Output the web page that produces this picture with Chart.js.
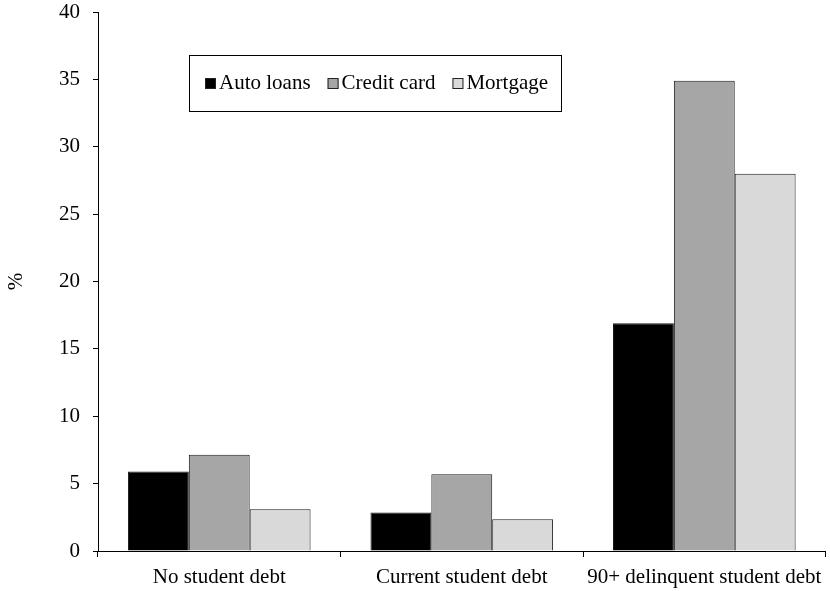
<!DOCTYPE html>
<html lang="en">
  <head>
    <meta charset="UTF-8">
    <script src="https://cdn.jsdelivr.net/npm/chart.js"></script>
    <title>Delinquency by student debt status</title>
    <style>
      html, body { margin: 0; padding: 0; background: #fff; }
      #plot { width: 830px; height: 591px; }
    </style>
  </head>
  <body>
    <div id="plot">
      <canvas id="myChart" width="830" height="591"></canvas>
    </div>
    <script>
      // Chart data
      const categories = ['No student debt', 'Current student debt', '90+ delinquent student debt'];
      const seriesNames = ['Auto loans', 'Credit card', 'Mortgage'];
      const autoLoans = [5.9, 2.85, 16.9];
      const creditCard = [7.15, 5.7, 34.9];
      const mortgage = [3.1, 2.35, 28.0];
      const yTicks = [0, 5, 10, 15, 20, 25, 30, 35, 40];

      const fillColors = ['#000000', '#a6a6a6', '#d9d9d9'];
      const fontFamily = '"Liberation Serif", "Times New Roman", serif';
      const fontSize = 21;

      const chartData = {
        labels: categories,
        datasets: [autoLoans, creditCard, mortgage].map(function (vals, i) {
          return {
            label: seriesNames[i],
            data: vals,
            backgroundColor: fillColors[i],
            borderColor: '#1a1a1a',
            borderWidth: 1,
            categoryPercentage: 0.753,
            barPercentage: 1.0,
          };
        }),
      };

      // legend drawn in a box inside the plot area
      const boxLegend = {
        id: 'boxLegend',
        afterDraw: function (chart) {
          const ctx = chart.ctx;
          ctx.save();
          ctx.font = fontSize + 'px ' + fontFamily;
          ctx.textBaseline = 'middle';
          ctx.strokeStyle = '#000';
          ctx.lineWidth = 1;
          ctx.strokeRect(189.5, 55.5, 372, 56);
          let x = 205;
          const cy = 83.5;
          chart.data.datasets.forEach(function (ds) {
            ctx.fillStyle = ds.backgroundColor;
            ctx.fillRect(x, cy - 5.5, 11, 11);
            ctx.strokeStyle = '#222';
            ctx.strokeRect(x + 0.5, cy - 5, 10, 10);
            ctx.fillStyle = '#000';
            ctx.fillText(ds.label, x + 14, cy);
            x += 14 + ctx.measureText(ds.label).width + 17;
          });
          ctx.restore();
        },
      };

      const ctx = document.getElementById('myChart').getContext('2d');
      const myChart = new Chart(ctx, {
        type: 'bar',
        data: chartData,
        plugins: [boxLegend],
        options: {
          responsive: false,
          animation: false,
          layout: { padding: { top: 12, right: 4, left: 0, bottom: 0 } },
          plugins: {
            legend: { display: false },
            tooltip: { enabled: false },
          },
          scales: {
            x: {
              grid: {
                offset: true,
                drawOnChartArea: false,
                drawTicks: true,
                tickLength: 6,
                color: '#000',
              },
              border: { color: '#000', width: 1 },
              ticks: {
                color: '#000',
                padding: 8,
                maxRotation: 0,
                autoSkip: false,
                font: { family: fontFamily, size: fontSize },
              },
              afterFit: function (scale) { scale.height = 40; },
            },
            y: {
              min: 0,
              max: 40,
              afterBuildTicks: function (scale) {
                scale.ticks = yTicks.map(function (v) { return { value: v }; });
              },
              grid: {
                drawOnChartArea: false,
                drawTicks: true,
                tickLength: 5,
                color: '#000',
              },
              border: { color: '#000', width: 1 },
              ticks: {
                color: '#000',
                padding: 13,
                font: { family: fontFamily, size: fontSize },
              },
              title: {
                display: true,
                text: '%',
                color: '#000',
                padding: { top: 4, bottom: 30 },
                font: { family: fontFamily, size: fontSize },
              },
              afterFit: function (scale) {
                scale.width = 98;
                scale.paddingTop = 0;
                scale.paddingBottom = 0;
              },
            },
          },
        },
      });
    </script>
  </body>
</html>
